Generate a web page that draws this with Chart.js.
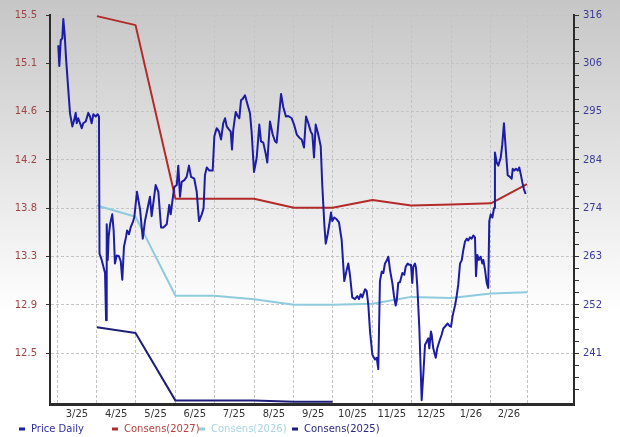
<!DOCTYPE html>
<html><head><meta charset="utf-8">
<script src="https://cdn.jsdelivr.net/npm/chart.js@4/dist/chart.umd.min.js"></script>
<style>html,body{margin:0;padding:0;background:#fff}#wrap{width:620px;height:437px;position:relative}</style>
</head><body><div id="wrap"><canvas id="c" width="620" height="437"></canvas></div>
<script>
// x values are days counted from 1 Mar 2025
const monthStarts = [0,31,61,92,122,153,184,214,245,275,306,337,365];
const monthLabels = ['3/25','4/25','5/25','6/25','7/25','8/25','9/25','10/25','11/25','12/25','1/26','2/26'];
const leftTickLabels = ['15.5','15.1','14.6','14.2','13.8','13.3','12.9','12.5'];
const rightTickLabels = ['316','306','295','284','274','263','252','241'];
const seriesNames = ['Price Daily','Consens(2027)','Consens(2026)','Consens(2025)'];

const priceDays = [1.0,1.8,2.9,4.1,4.9,6.0,7.0,8.8,10.1,11.9,
13.4,14.5,15.3,16.5,17.9,19.2,20.4,22.3,24.3,25.6,
26.9,28.2,30.1,31.6,32.6,33.0,34.7,37.3,38.1,38.6,
39.4,40.1,41.2,42.9,44.0,45.0,46.4,48.1,49.5,50.7,
52.0,53.6,54.4,55.9,57.2,58.8,60.0,62.1,64.5,66.6,
68.3,70.4,72.2,73.5,76.6,78.7,80.8,82.6,85.2,87.2,
88.3,89.9,91.1,93.0,94.2,95.5,96.8,98.9,100.7,102.5,
104.1,106.6,108.5,110.3,112.4,113.8,114.9,116.3,118.3,120.9,
122.2,124.0,125.8,127.4,129.1,130.5,131.8,133.6,134.9,135.9,
136.9,138.8,140.3,141.6,142.9,144.2,146.0,147.8,149.9,151.2,
153.0,155.1,157.1,158.4,160.2,162.1,163.3,165.4,167.5,169.3,
170.6,172.4,174.0,175.7,177.8,179.6,182.3,184.1,186.2,188.2,
190.0,191.8,193.4,195.2,197.0,198.3,199.6,200.9,202.9,204.8,
206.0,207.6,208.7,210.2,211.5,212.8,213.8,215.3,217.2,219.0,
221.1,223.1,225.0,226.2,227.5,229.3,231.4,233.2,234.5,235.9,
237.1,239.2,240.5,241.8,243.1,244.9,246.9,248.3,249.5,250.8,
252.2,253.4,254.7,256.0,257.3,258.6,260.4,261.7,263.0,263.8,
265.0,266.4,268.2,269.7,270.8,272.3,273.6,274.9,275.9,276.7,
278.0,278.8,279.8,281.4,283.2,284.5,285.8,287.1,288.3,289.1,
290.4,291.0,292.2,294.1,295.3,296.9,298.7,300.0,301.9,303.4,
304.7,306.0,307.3,309.1,310.4,311.6,313.0,314.3,315.5,316.8,
318.2,319.4,320.7,322.0,323.3,324.6,325.4,326.4,327.7,329.0,
330.3,331.1,332.4,333.7,334.9,335.7,336.8,338.1,339.4,340.1,
341.5,342.7,344.6,345.8,347.1,348.7,350.0,351.8,353.1,353.9,
355.1,356.4,357.8,359.0,360.3,361.3,362.6,363.9];
const priceValues = [309.3,304.7,310.4,310.8,315.1,311.5,306.5,299.3,294.2,291.3,
292.8,294.3,292.0,293.1,292.0,290.9,292.0,292.4,294.3,293.5,
292.0,294.0,293.5,294.0,293.5,263.1,261.7,258.8,248.3,269.6,
261.7,266.8,269.6,271.8,268.2,260.9,262.7,262.5,261.4,257.3,
264.6,266.8,268.2,267.4,268.9,270.0,271.1,276.8,272.9,266.4,
270.3,273.2,275.7,271.4,278.3,276.8,268.9,268.9,269.6,273.9,
271.8,275.4,277.9,278.3,282.6,275.7,279.0,279.4,280.1,282.6,
280.1,279.7,276.8,270.3,271.8,273.1,280.5,282.2,281.5,281.5,
289.1,290.9,290.2,288.4,292.0,293.1,291.3,290.6,290.2,286.2,
290.6,294.5,293.6,293.1,297.1,297.4,298.2,296.3,294.2,289.8,
281.2,284.4,291.7,288.0,287.7,285.2,283.3,292.4,289.5,288.0,
287.7,293.5,298.5,295.6,293.5,293.6,293.1,291.7,289.5,288.8,
288.4,286.6,293.5,292.0,290.2,289.5,284.4,291.7,289.5,286.9,
278.3,269.6,265.3,267.4,269.6,272.2,270.3,271.1,270.7,270.0,
266.0,257.0,259.5,260.9,258.4,253.4,253.0,253.7,253.0,254.1,
253.4,255.2,254.8,251.6,245.8,240.7,239.6,240.0,237.5,257.0,
259.1,258.8,260.9,261.5,262.4,259.5,256.6,253.7,251.6,252.6,
256.6,256.8,258.8,258.4,260.2,260.9,260.6,260.6,256.6,260.2,
260.9,259.9,255.9,246.5,230.6,236.4,242.9,243.6,244.3,242.1,
245.8,245.1,242.1,240.0,242.1,243.6,245.1,246.5,247.1,247.6,
247.1,246.9,249.4,251.6,253.7,256.2,260.9,261.6,263.8,265.7,
266.4,266.0,266.7,266.4,267.1,266.7,258.1,262.8,261.7,262.4,
260.9,261.7,259.5,256.6,255.5,270.3,271.8,271.1,273.2,285.5,
283.3,282.6,284.4,287.3,292.0,285.5,280.5,280.1,279.7,281.9,
281.5,281.9,281.5,282.2,280.5,279.0,277.4,276.3];

const consDays = [31,61,92,122,153,184,214,245,275,306,337,365];
const cons2027 = [15.49,15.41,13.87,13.87,13.87,13.79,13.79,13.86,13.81,13.82,13.83,14.00];
const cons2026 = [13.81,13.71,13.01,13.01,12.98,12.93,12.93,12.94,13.00,12.99,13.03,13.04];
const cons2025Days = [31,61,92,122,153,184,214];
const cons2025 = [12.73,12.68,12.08,12.08,12.08,12.07,12.07];

const colors = ['#1c1ca4','#b32a2a','#8ecbdd','#1f1f7a'];
const legendTextColors = ['#2f2fa0','#b84040','#a9d4e2','#2a2a80'];

const pts = (xs, ys) => xs.map((x, i) => ({x: x, y: ys[i]}));

// axis layout (value ranges)
const leftTop = 15.5, leftStep = 3 / 7;
const leftMin = leftTop - leftStep * 8.05;
const rightTop = 316, rightStep = 75 / 7;
const rightMin = rightTop - rightStep * 8.05;
const xMin = -5.44, xMax = 401.5;

const bgPlugin = {
  id: 'bg',
  beforeDraw(chart) {
    const ctx = chart.ctx;
    const g = ctx.createLinearGradient(0, 0, 0, chart.height);
    g.addColorStop(0, '#c6c6c6');
    g.addColorStop(0.72, '#ffffff');
    g.addColorStop(1, '#ffffff');
    ctx.save();
    ctx.fillStyle = g;
    ctx.fillRect(0, 0, chart.width, chart.height);
    ctx.restore();
  }
};

const legendPlugin = {
  id: 'customLegend',
  afterDraw(chart) {
    const ctx = chart.ctx;
    const starts = [19, 112, 199, 292];
    const y = 429;
    ctx.save();
    ctx.font = '10px "DejaVu Sans"';
    ctx.textBaseline = 'middle';
    chart.data.datasets.forEach((ds, i) => {
      ctx.fillStyle = ds.borderColor;
      ctx.fillRect(starts[i], y - 1.5, 6, 3);
      ctx.fillStyle = legendTextColors[i];
      ctx.fillText(ds.label, starts[i] + 12, y);
    });
    ctx.restore();
  }
};

new Chart(document.getElementById('c'), {
  type: 'line',
  data: {
    datasets: [
      {label: seriesNames[0], data: pts(priceDays, priceValues), yAxisID: 'y1', borderColor: colors[0], borderWidth: 2},
      {label: seriesNames[1], data: pts(consDays, cons2027), yAxisID: 'y', borderColor: colors[1], borderWidth: 2},
      {label: seriesNames[2], data: pts(consDays, cons2026), yAxisID: 'y', borderColor: colors[2], borderWidth: 2},
      {label: seriesNames[3], data: pts(cons2025Days, cons2025), yAxisID: 'y', borderColor: colors[3], borderWidth: 2}
    ]
  },
  options: {
    responsive: false,
    animation: false,
    devicePixelRatio: 1,
    parsing: true,
    elements: {point: {radius: 0}, line: {tension: 0, borderJoinStyle: 'round'}},
    layout: {padding: {top: 6, bottom: 15, left: 0, right: 0}},
    plugins: {legend: {display: false}, tooltip: {enabled: false}},
    scales: {
      x: {
        type: 'linear', min: xMin, max: xMax,
        afterBuildTicks(scale) {
          const t = [];
          monthStarts.forEach((v, i) => {
            t.push({value: v});
            if (i < monthLabels.length) t.push({value: (v + monthStarts[i + 1]) / 2});
          });
          scale.ticks = t;
        },
        afterFit(scale) { scale.height = 18; },
        ticks: {
          autoSkip: false, maxRotation: 0, padding: 4,
          color: '#333', font: {family: 'DejaVu Sans', size: 10},
          callback(value, index) { return index % 2 === 1 ? monthLabels[(index - 1) / 2] : ''; }
        },
        grid: {
          drawTicks: false,
          color: (c) => (c.index % 2 === 0 ? '#c4c4c4' : 'rgba(0,0,0,0)'),
          lineWidth: 1
        },
        border: {display: true, color: '#2b2b2b', width: 3, dash: [3, 2]}
      },
      y: {
        type: 'linear', position: 'left', min: leftMin, max: leftTop,
        afterBuildTicks(scale) {
          scale.ticks = leftTickLabels.map((l, i) => ({value: leftTop - i * leftStep}));
        },
        afterFit(scale) { scale.width = 50; },
        ticks: {
          autoSkip: false, padding: 9, color: '#a04444', font: {family: 'DejaVu Sans', size: 10},
          callback(value, index) { return leftTickLabels[index]; }
        },
        grid: {color: '#c4c4c4', lineWidth: 1, tickLength: 4, tickColor: '#333', tickBorderDash: []},
        border: {display: true, color: '#2b2b2b', width: 2, dash: [3, 2]}
      },
      y1: {
        type: 'linear', position: 'right', min: rightMin, max: rightTop,
        afterBuildTicks(scale) {
          const t = [];
          for (let i = 0; rightTop - i * rightStep / 4 > rightMin + 0.5; i++) t.push({value: rightTop - i * rightStep / 4});
          scale.ticks = t;
        },
        afterFit(scale) { scale.width = 46; },
        ticks: {
          autoSkip: false, padding: 4, color: '#3c3c98', font: {family: 'DejaVu Sans', size: 10},
          callback(value, index) { return index % 4 === 0 ? rightTickLabels[index / 4] : ''; }
        },
        grid: {drawOnChartArea: false, tickLength: 5, tickColor: '#333', tickBorderDash: []},
        border: {display: true, color: '#2b2b2b', width: 2}
      }
    }
  },
  plugins: [bgPlugin, legendPlugin]
});
</script>
</body></html>
